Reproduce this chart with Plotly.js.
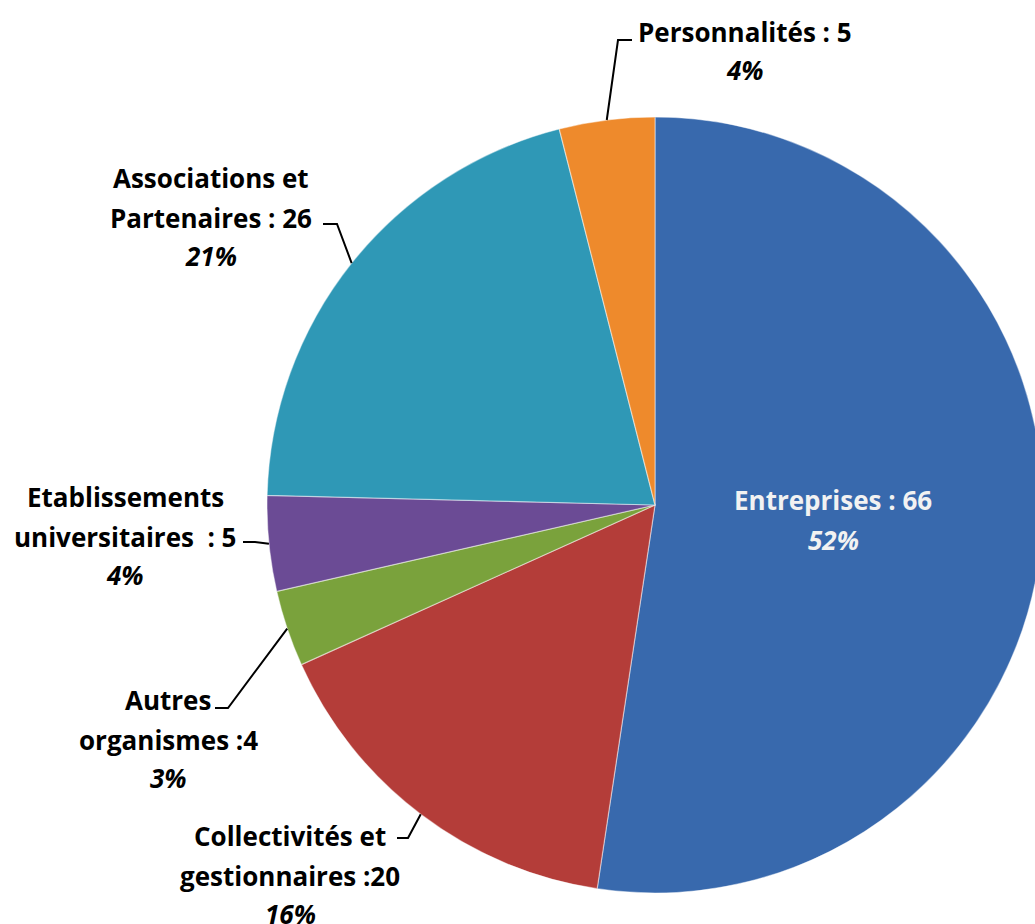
<!DOCTYPE html>
<html><head><meta charset="utf-8">
<script src="https://cdn.plot.ly/plotly-3.0.1.min.js"></script>
<style>html,body{margin:0;padding:0;overflow:hidden;background:#fff}#chart{width:1050px;height:924px}</style>
</head><body><div id="chart"></div>
<script>
// ---- data ----
const categories = ['Entreprises', 'Collectivités et<br>gestionnaires', 'Autres<br>organismes', 'Etablissements<br>universitaires', 'Associations et<br>Partenaires', 'Personnalités'];
const values = [66, 20, 4, 5, 26, 5];
const separators = [' : ', ' :', ' :', '  : ', ' : ', ' : '];
const colors = ['#3869AD', '#B43D39', '#7AA23C', '#6B4B95', '#2F98B6', '#EE8A2C'];

// ---- geometry / layout ----
const W = 1050, H = 924;
const cx = 655, cy = 505, R = 388;
const px2x = p => p / W;
const px2y = p => 1 - p / H;

// label placement (pixels): text centre x, line centre ys, leader elbow and end
const labelLayout = [
  {x: 833, ys: [500, 540], color: '#F2F2F2', leader: null},
  {x: 290, ys: [836, 876, 914], color: '#000', leader: [[408, 838], [397, 838]]},
  {x: 168, ys: [700, 740, 778], color: '#000', leader: [[228, 708], [215, 708]]},
  {x: 125, ys: [497, 537, 575], color: '#000', leader: [[255, 542], [243, 542]]},
  {x: 211, ys: [178, 218, 256], color: '#000', leader: [[337, 224], [323, 224]]},
  {x: 745, ys: [32, 70], color: '#000', leader: [[618, 40], [632, 40]]}
];

const total = values.reduce((a, b) => a + b, 0);
const FONT = '"Open Sans", Lato, sans-serif';
const annotations = [];
const shapes = [];
let cum = 0;
values.forEach((v, i) => {
  const mid = (cum + v / 2) / total * 2 * Math.PI;
  cum += v;
  const ex = cx + R * Math.sin(mid), ey = cy - R * Math.cos(mid);
  const lay = labelLayout[i];
  const nameLines = categories[i].split('<br>');
  nameLines[nameLines.length - 1] += separators[i] + v;
  const pct = Math.round(v / total * 100) + '%';
  const lines = nameLines.map(t => '<b>' + t + '</b>').concat(['<b><i>' + pct + '</i></b>']);
  lines.forEach((t, k) => {
    annotations.push({
      xref: 'paper', yref: 'paper', x: px2x(lay.x), y: px2y(lay.ys[k]),
      xanchor: 'center', yanchor: 'middle', showarrow: false, text: t,
      font: {family: FONT, size: 26, color: lay.color}
    });
  });
  if (lay.leader) {
    const pts = [[ex, ey]].concat(lay.leader);
    const path = pts.map((p, k) => (k ? 'L' : 'M') + px2x(p[0]).toFixed(5) + ',' + px2y(p[1]).toFixed(5)).join(' ');
    shapes.push({type: 'path', xref: 'paper', yref: 'paper', path: path, line: {color: '#000', width: 2}});
  }
});

const trace = {
  type: 'pie',
  labels: categories,
  values: values,
  sort: false,
  direction: 'clockwise',
  rotation: 0,
  textinfo: 'none',
  hoverinfo: 'label+value+percent',
  marker: {colors: colors, line: {color: 'rgba(255,255,255,0.45)', width: 1.2}},
  domain: {x: [(cx - R) / W, (cx + R) / W], y: [px2y(cy + R), px2y(cy - R)]}
};

Plotly.newPlot('chart', [trace], {
  width: W, height: H,
  margin: {l: 0, r: 0, t: 0, b: 0},
  paper_bgcolor: '#fff',
  showlegend: false,
  annotations: annotations,
  shapes: shapes
}, {displayModeBar: false, staticPlot: true});
</script>
</body></html>
